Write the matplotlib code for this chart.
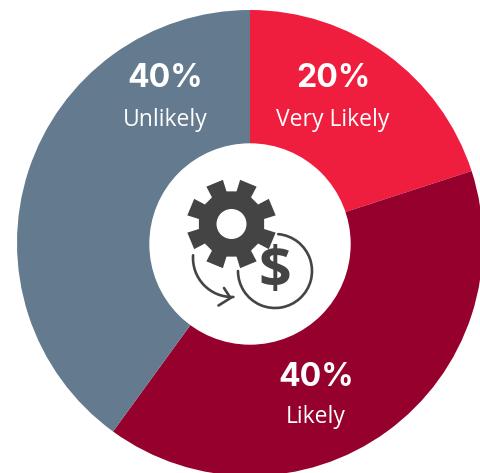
# Donut chart of likelihood shares with a gear and dollar icon in the hole.
import numpy as np
import matplotlib
matplotlib.use("Agg")
import matplotlib.pyplot as plt
from matplotlib.patches import Arc, Circle, PathPatch
from matplotlib.path import Path

# Chart values
labels = ["Very Likely", "Likely", "Unlikely"]
shares = [20, 40, 40]
colors = ["#F01E3E", "#96002D", "#647A8F"]

# Label positions in pixels from the top left corner
label_x = [333, 316, 165]
pct_y = [79, 377, 79]
name_y = [120, 417, 120]

W, H = 480, 473
ICON = "#444444"
plt.rcParams["font.family"] = ["Open Sans", "DejaVu Sans"]

fig = plt.figure(figsize=(W / 100, H / 100), dpi=100)
ax = fig.add_axes([0, 0, 1, 1])


def py(y):
    # Flip a pixel row into the upward y axis
    return H - y


ax.pie(shares, colors=colors, startangle=90, counterclock=False,
       radius=233, center=(250, py(243)), frame=True)
ax.set_xlim(0, W)
ax.set_ylim(0, H)
ax.set_aspect("equal")
ax.axis("off")

ax.add_patch(Circle((250, py(244)), 100, color="white", zorder=3))

for x, y1, y2, share, label in zip(label_x, pct_y, name_y, shares, labels):
    ax.text(x, py(y1), f"{share}%", color="white", fontsize=23, fontweight="bold",
            family=["Inter", "DejaVu Sans"], ha="center", va="center", zorder=4)
    ax.text(x, py(y2), label, color="white", fontsize=16.5,
            ha="center", va="center", zorder=4)

# Gear outline with eight teeth and a round hole
gx, gy = 231.5, py(224)
teeth = 8
outer, body = 45, 33
verts = []
for i in range(teeth):
    mid = np.pi / 2 - np.pi / 8 - i * 2 * np.pi / teeth
    for r, off in [(body, 0.24), (outer, 0.2), (outer, -0.2), (body, -0.24)]:
        verts.append((gx + r * np.cos(mid + off), gy + r * np.sin(mid + off)))
verts.append(verts[0])
codes = [Path.MOVETO] + [Path.LINETO] * (len(verts) - 2) + [Path.CLOSEPOLY]
hole = Path.circle((gx, gy), 15)
gear = Path.make_compound_path(Path(verts, codes), hole.deepcopy())
ax.add_patch(PathPatch(gear, facecolor=ICON, edgecolor="none", zorder=5))

# Coin ring with a dollar sign
ax.add_patch(Arc((275, py(271)), 74, 74, theta1=180, theta2=85, color=ICON, lw=1.9,
                 capstyle="round", zorder=5))
ax.text(275, py(273), "$", color=ICON, fontsize=41, fontweight="bold",
        ha="center", va="center", zorder=5)

# Curved arrow running from the gear to the coin
ax.add_patch(Arc((232, py(258)), 78, 78, theta1=176, theta2=272, color=ICON, lw=1.9,
                 capstyle="round", zorder=5))
ax.plot([224, 230.5, 218.5], [py(288), py(298), py(305.5)], color=ICON, lw=1.9,
        solid_capstyle="round", solid_joinstyle="miter", zorder=5)

fig.savefig("out.png", dpi=100, facecolor="white")
